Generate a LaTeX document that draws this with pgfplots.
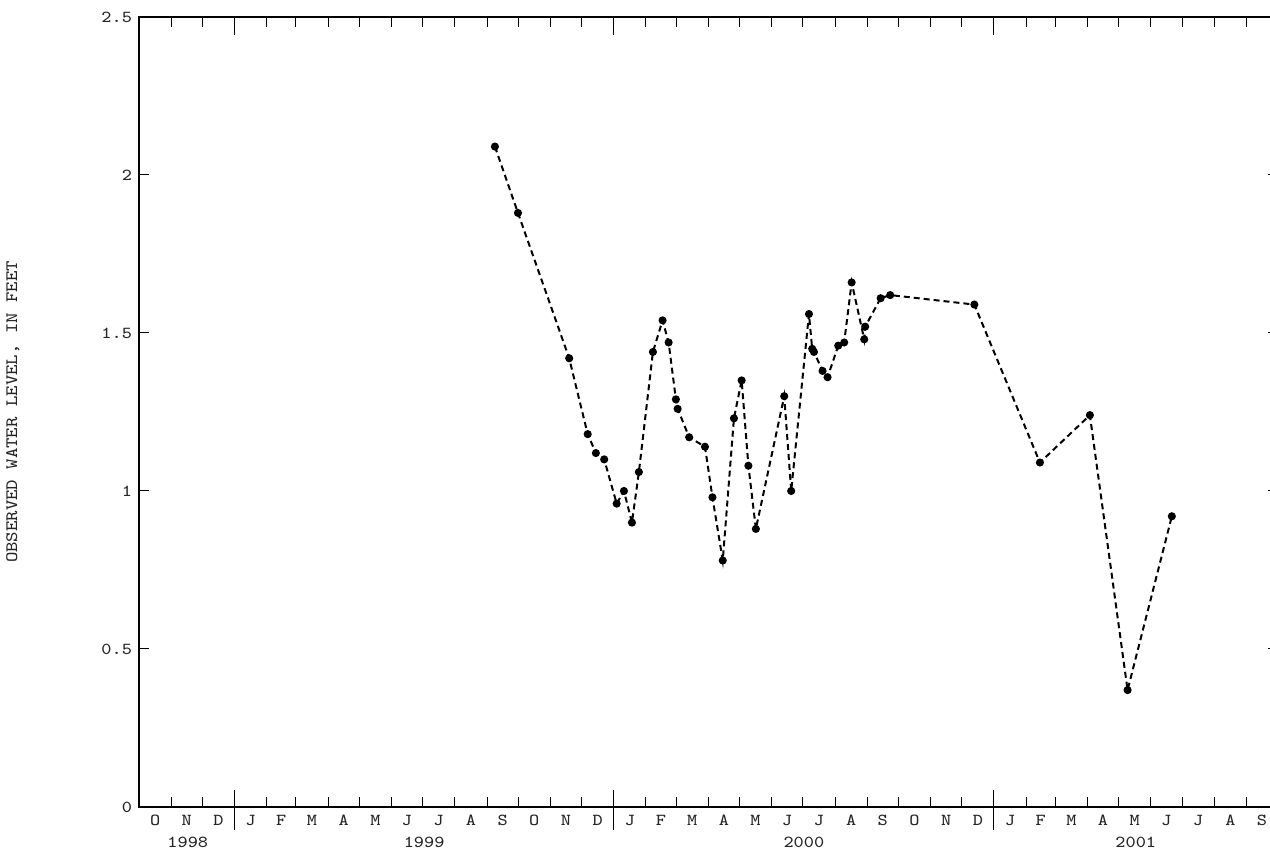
\documentclass[border=0pt]{standalone}
\usepackage{pgfplots}
\pgfplotsset{compat=1.18}
\usepackage{fontspec}
\setmonofont{Latin Modern Mono}[FakeStretch=1.14]
\renewcommand{\familydefault}{\ttdefault}
\pgfplotstableread{
day level
342.6 2.09
364.8 1.88
414.1 1.42
431.9 1.18
439.8 1.12
447.8 1.10
459.8 0.96
466.8 1.00
474.5 0.90
481.2 1.06
494.7 1.44
504.0 1.54
509.8 1.47
516.8 1.29
518.5 1.26
529.6 1.17
544.8 1.14
552.0 0.98
561.9 0.78
572.7 1.23
580.1 1.35
586.6 1.08
593.8 0.88
621.1 1.30
627.8 1.00
644.9 1.56
648.0 1.45
649.7 1.44
658.0 1.38
662.8 1.36
673.1 1.46
678.8 1.47
686.0 1.66
698.1 1.48
699.0 1.52
713.9 1.61
723.1 1.62
804.1 1.59
867.2 1.09
915.3 1.24
951.6 0.37
994.2 0.92
}\levels
\begin{document}
\begin{tikzpicture}
\begin{axis}[
  scale only axis,
  width=569.3pt, height=395pt,
  xmin=0, xmax=1096, ymin=0, ymax=2.5,
  clip=false,
  axis line style={line width=1pt},
  tick align=inside,
  tick style={black, line width=0.5pt},
  ytick={0,0.5,1,1.5,2,2.5},
  yticklabels={0,0.5,1,1.5,2,2.5},
  major tick length=5pt,
  minor tick length=5pt,
  xtick={15.5,46,76.5,107.5,137,166.5,197,227.5,258,288.5,319.5,350,380.5,411,441.5,472.5,502.5,532.5,563,593.5,624,654.5,685.5,716,746.5,777,807.5,838.5,868,897.5,928,958.5,989,1019.5,1050.5,1081},
  xticklabels={O,N,D,J,F,M,A,M,J,J,A,S,O,N,D,J,F,M,A,M,J,J,A,S,O,N,D,J,F,M,A,M,J,J,A,S},
  major x tick style={draw=none},
  minor xtick={31,61,123,151,182,212,243,273,304,335,365,396,426,488,517,548,578,609,639,670,701,731,762,792,854,882,913,943,974,1004,1035,1066},
  ticklabel style={font=\ttfamily\fontsize{8.4}{10}\selectfont, text=black!85},
  xticklabel style={yshift=-0.5pt},
  ylabel={OBSERVED WATER LEVEL, IN FEET},
  ylabel style={at={([xshift=-63pt]axis description cs:0,0.5)}, anchor=center, font=\ttfamily\fontsize{8.7}{10}\selectfont, text=black!85},
]
\coordinate (BL) at (rel axis cs:0,0);
\addplot[black, line width=1pt, dash pattern=on 3pt off 2pt, mark=*, mark size=1.5pt, mark options={solid}] table[x=day, y=level] {\levels};
\draw[line width=0.5pt] ([yshift=8.5pt]axis cs:92,0) -- ([yshift=-11.5pt]axis cs:92,0);
\draw[line width=0.5pt] (axis cs:92,2.5) -- ([yshift=-9pt]axis cs:92,2.5);
\draw[line width=0.5pt] ([yshift=8.5pt]axis cs:457,0) -- ([yshift=-11.5pt]axis cs:457,0);
\draw[line width=0.5pt] (axis cs:457,2.5) -- ([yshift=-9pt]axis cs:457,2.5);
\draw[line width=0.5pt] ([yshift=8.5pt]axis cs:823,0) -- ([yshift=-11.5pt]axis cs:823,0);
\draw[line width=0.5pt] (axis cs:823,2.5) -- ([yshift=-9pt]axis cs:823,2.5);
\node[font=\ttfamily\fontsize{8.4}{10}\selectfont, text=black!85] at ([yshift=-17.5pt]axis cs:47,0) {1998};
\node[font=\ttfamily\fontsize{8.4}{10}\selectfont, text=black!85] at ([yshift=-17.5pt]axis cs:274.5,0) {1999};
\node[font=\ttfamily\fontsize{8.4}{10}\selectfont, text=black!85] at ([yshift=-17.5pt]axis cs:640,0) {2000};
\node[font=\ttfamily\fontsize{8.4}{10}\selectfont, text=black!85] at ([yshift=-17.5pt]axis cs:959.5,0) {2001};
\end{axis}
\pgfresetboundingbox
\path[use as bounding box] ([xshift=-69.5pt,yshift=-21.5pt]BL) rectangle ([xshift=565.5pt,yshift=403.5pt]BL);
\end{tikzpicture}
\end{document}
